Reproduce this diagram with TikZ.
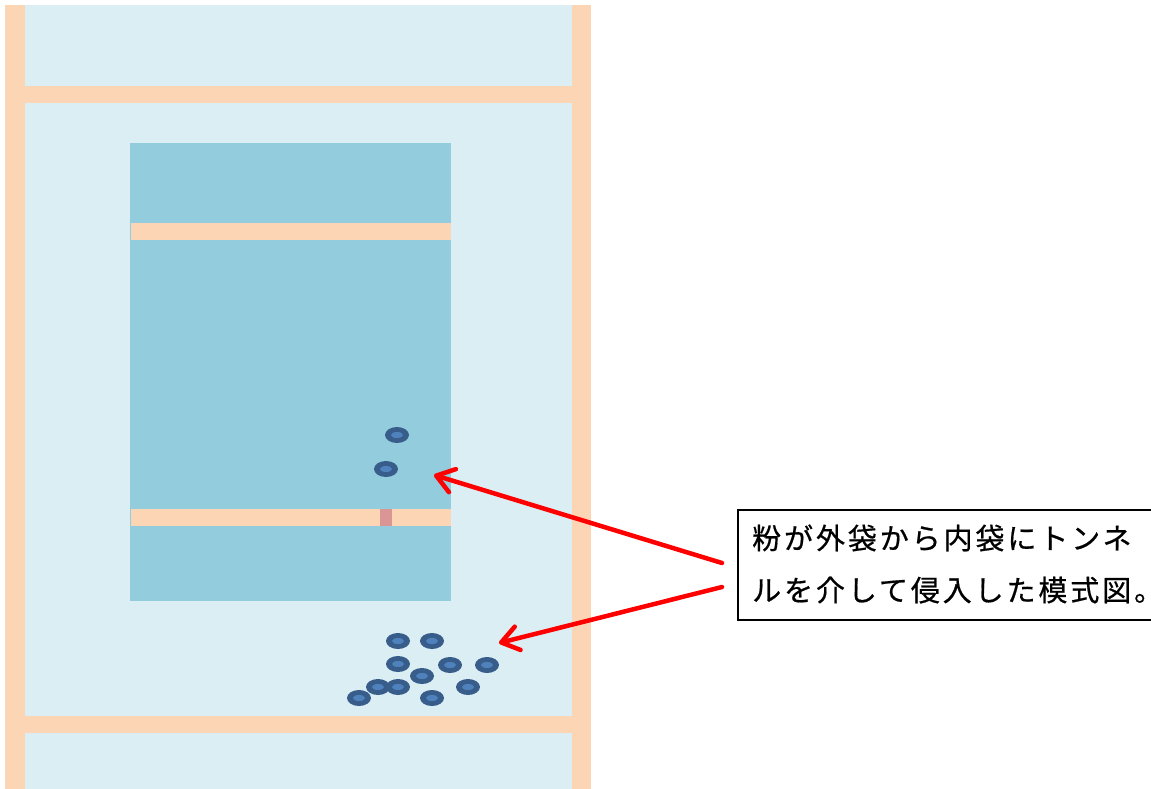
\documentclass[tikz,border=0pt]{standalone}
\usepackage{fontspec}
\newfontfamily\jp[LetterSpace=10,FakeBold=0.6]{Noto Sans CJK JP}
\usetikzlibrary{arrows.meta}
\definecolor{pale}{HTML}{DAEEF3}
\definecolor{peach}{HTML}{FCD5B5}
\definecolor{bag}{HTML}{93CDDD}
\definecolor{tunnel}{HTML}{D99694}
\definecolor{grainout}{HTML}{385D8A}
\definecolor{grainin}{HTML}{4F81BD}
\definecolor{arrowred}{HTML}{FF0000}
\tikzset{
  grain/.pic={
    \fill[grainout] (0,0) ellipse[x radius=12, y radius=8];
    \fill[grainin] (0,0) ellipse[x radius=6, y radius=3];
  },
  redarrow/.style={draw=arrowred, line width=4.5pt, line cap=round, -{Straight Barb[length=17pt,width=24pt,round]}},
  notebox/.style={draw=black, line width=1.5pt, fill=white, anchor=north west, minimum width=416pt, minimum height=110pt, inner sep=0pt},
  notetext/.style={anchor=west, align=left, inner sep=0pt, font=\jp\fontsize{29}{52}\selectfont}
}
\begin{document}
\begin{tikzpicture}[x=1pt,y=-1pt]
\useasboundingbox (0,0) rectangle (1151,789);
\fill[white] (0,0) rectangle (1151,789);
% outer bag
\fill[pale] (5,5) rectangle (591,789);
\fill[peach] (5,5) rectangle (25,789);
\fill[peach] (572,5) rectangle (591,789);
\fill[peach] (25,86) rectangle (572,103);
\fill[peach] (25,716) rectangle (572,733);
% inner bag
\fill[bag] (130,143) rectangle (451,601);
\fill[peach] (131,223) rectangle (451,240);
\fill[peach] (131,509) rectangle (451,526);
\fill[tunnel] (380,509) rectangle (392,526);
% powder grains
\foreach \p in {(397,435),(386,469),(398,641),(432,641),(398,664),(450,665),(487,665),(422,676),(378,687),(398,687),(468,687),(359,698),(432,698)}
  \pic at \p {grain};
% note
\node[notebox] (box) at (737,509) {};
\node[notetext] (label) at (752,564) {粉が外袋から内袋にトンネ\\ルを介して侵入した模式図。};
% arrows
\coordinate (s1) at (722,563);
\coordinate (t1) at (434,475);
\coordinate (s2) at (722,587);
\coordinate (t2) at (499,643);
\draw[redarrow] (s1) -- (t1);
\draw[redarrow] (s2) -- (t2);
\end{tikzpicture}
\end{document}
